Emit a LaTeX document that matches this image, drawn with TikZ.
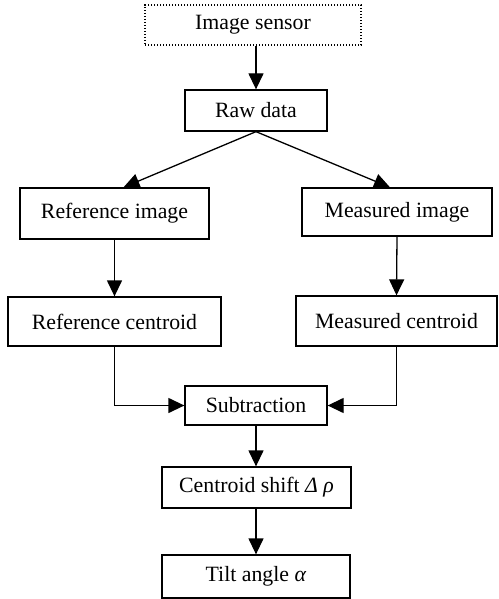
\documentclass[tikz,border=0pt]{standalone}
\usepackage{fontspec}
\setmainfont{Liberation Serif}
\usetikzlibrary{arrows.meta}

\begin{document}
\begin{tikzpicture}[x=1pt, y=-1pt,
    box/.style={draw, line width=1.3pt, inner sep=0pt, align=center,
        font=\fontsize{21.8}{26}\selectfont},
    dotbox/.style={box, dash pattern=on 1.4pt off 1.6pt},
    flow/.style={line width=1.3pt, -{Triangle[length=16pt, width=15pt]}}]
    % Fix the page size
    \useasboundingbox (0,0) rectangle (498,599);

    % Blocks
    \node[dotbox, minimum width=216pt, minimum height=40pt] (sensor) at (253,25) {Image sensor};
    \node[box, minimum width=142pt, minimum height=41pt] (raw) at (256,110.5) {Raw data};
    \node[box, minimum width=189pt, minimum height=51pt] (refimg) at (114.5,213.5) {Reference image};
    \node[box, minimum width=190pt, minimum height=48pt] (measimg) at (397,212) {Measured image};
    \node[box, minimum width=213pt, minimum height=49pt] (refcen) at (114.5,321.5) {Reference centroid};
    \node[box, minimum width=201pt, minimum height=50pt] (meascen) at (396.5,321) {Measured centroid};
    \node[box, minimum width=142pt, minimum height=39pt] (sub) at (256,405.5) {Subtraction};
    \node[box, minimum width=189pt, minimum height=41pt] (shift) at (256.5,487.5) {Centroid shift \textit{Δ ρ}};
    \node[box, minimum width=188pt, minimum height=43pt] (tilt) at (256,576.5) {Tilt angle \textit{α}};

    % Connectors
    \draw[flow] (sensor.south -| raw.north) -- (raw.north);
    \draw[flow] (raw.south) -- ([xshift=9pt]refimg.north);
    \draw[flow] (raw.south) -- ([xshift=-7pt]measimg.north);
    \draw[flow] (refimg.south) -- (refcen.north);
    \draw[flow] (measimg.south) -- (meascen.north);
    \draw[flow] (refcen.south) |- (sub.west);
    \draw[flow] (meascen.south) |- (sub.east);
    \draw[flow] (sub.south) -- (shift.north -| sub.south);
    \draw[flow] (shift.south -| tilt.north) -- (tilt.north);
\end{tikzpicture}
\end{document}
